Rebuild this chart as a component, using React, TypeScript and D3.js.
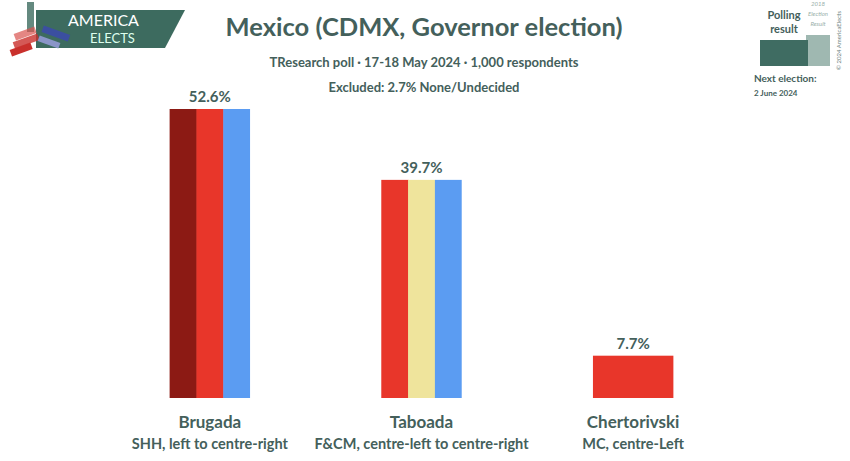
import React from "react";
import * as d3 from "d3";

const candidates = ["Brugada", "Taboada", "Chertorivski"];
const descriptions = ["SHH, left to centre-right", "F&CM, centre-left to centre-right", "MC, centre-Left"];
const values = [52.6, 39.7, 7.7];
const partyColors = [
  ["#8c1a14", "#e8362a", "#5b9cf2"],
  ["#e8362a", "#efe49c", "#5b9cf2"],
  ["#e8362a"],
];
const title = "Mexico (CDMX, Governor election)";
const subtitle = "TResearch poll · 17-18 May 2024 · 1,000 respondents";
const excluded = "Excluded: 2.7% None/Undecided";

const W = 850, H = 461;
const TEXT = "#44605b";
const FONT = "Lato, 'Open Sans', sans-serif";

export default function App() {
  const x = d3.scaleBand<string>().domain(candidates).range([104, 739]).paddingInner(0.62).paddingOuter(0.31);
  const y = d3.scaleLinear().domain([0, 52.6]).range([398, 109]);
  const bw = x.bandwidth();
  return (
    <svg width={W} height={H} style={{ position: "absolute", left: 0, top: 0, background: "#fff" }} fontFamily={FONT}>
      {/* logo */}
      <g>
        <polygon points="36,10 185,10 165,48 36,48" fill="#3d6b5f" />
        <rect x={27} y={2} width={7} height={30} fill="#3d6b5f" opacity={0.8} />
        <rect x={14} y={30} width={22} height={7} fill="#d9534f" opacity={0.7} transform="rotate(-20 25 33)" />
        <rect x={13} y={38} width={26} height={7} fill="#c9302c" opacity={0.8} transform="rotate(-20 25 41)" />
        <rect x={10} y={46} width={22} height={7} fill="#c9302c" transform="rotate(-20 21 49)" />
        <rect x={42} y={30} width={28} height={7} fill="#3b4fa0" transform="rotate(20 56 33)" />
        <rect x={38} y={39} width={22} height={6} fill="#8a95c8" transform="rotate(20 49 42)" />
        <text x={68} y={26} fill="#fff" fontSize={16} fontFamily={FONT}>AMERICA</text>
        <text x={90} y={43} fill="#dfe" fontSize={13} fontFamily={FONT}>ELECTS</text>
      </g>
      {/* titles */}
      <text x={424} y={36} textAnchor="middle" fill={TEXT} fontSize={25.5} fontWeight="bold">{title}</text>
      <text x={424} y={67} textAnchor="middle" fill={TEXT} fontSize={13} fontWeight="bold">{subtitle}</text>
      <text x={424} y={92} textAnchor="middle" fill={TEXT} fontSize={13} fontWeight="bold">{excluded}</text>
      {/* legend box top right */}
      <g>
        <text x={784} y={19} textAnchor="middle" fill={TEXT} fontSize={11} fontWeight="bold">Polling</text>
        <text x={784} y={33} textAnchor="middle" fill={TEXT} fontSize={11} fontWeight="bold">result</text>
        <text x={818} y={6} textAnchor="middle" fill="#9ab0aa" fontSize={6} fontStyle="italic">2018</text>
        <text x={818} y={16} textAnchor="middle" fill="#9ab0aa" fontSize={6} fontStyle="italic">Election</text>
        <text x={818} y={26} textAnchor="middle" fill="#9ab0aa" fontSize={6} fontStyle="italic">Result</text>
        <rect x={806} y={35} width={24} height={31} fill="#9fb8b1" />
        <rect x={760} y={40} width={48} height={26} fill="#3f6c62" />
        <text transform="translate(841,70) rotate(-90)" fill="#6d827e" fontSize={6}>© 2024 AmericaElects</text>
        <text x={754} y={82} fill={TEXT} fontSize={10} fontWeight="bold">Next election:</text>
        <text x={754} y={96} fill={TEXT} fontSize={8} fontWeight="bold">2 June 2024</text>
      </g>
      {/* bars */}
      {candidates.map((c, i) => {
        const cols = partyColors[i];
        const x0 = x(c)!;
        const sw = bw / cols.length;
        return (
          <g key={c}>
            {cols.map((col, j) => (
              <rect key={j} x={x0 + j * sw} y={y(values[i])} width={sw + (j < cols.length - 1 ? 0.5 : 0)} height={y(0) - y(values[i])} fill={col} />
            ))}
            <text x={x0 + bw / 2} y={y(values[i]) - 7} textAnchor="middle" fill={TEXT} fontSize={15} fontWeight="bold">{values[i].toFixed(1)}%</text>
            <text x={x0 + bw / 2} y={428} textAnchor="middle" fill={TEXT} fontSize={17} fontWeight="bold">{c}</text>
            <text x={x0 + bw / 2} y={449} textAnchor="middle" fill={TEXT} fontSize={14.5} fontWeight="bold">{descriptions[i]}</text>
          </g>
        );
      })}
    </svg>
  );
}
